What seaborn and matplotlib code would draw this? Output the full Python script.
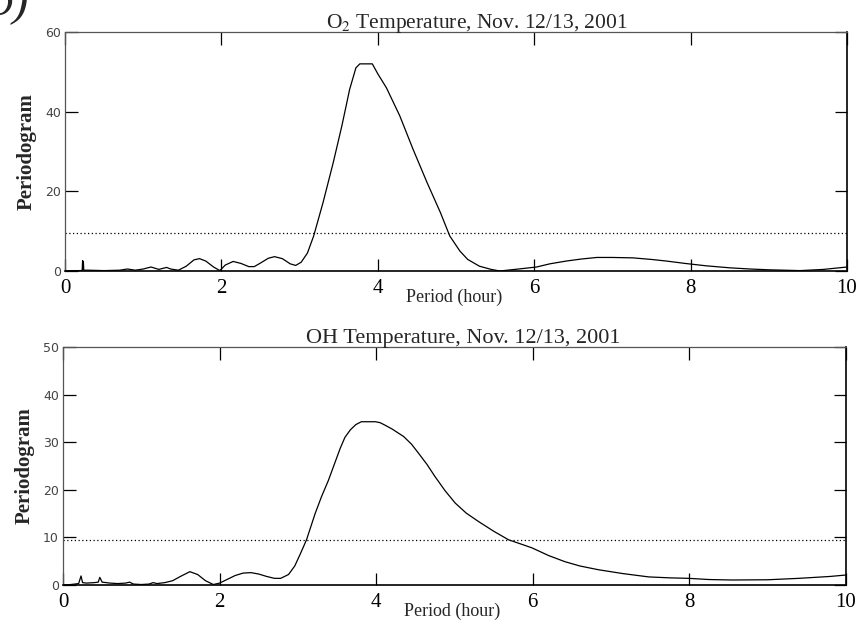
import matplotlib
matplotlib.use("Agg")
import matplotlib.pyplot as plt
import seaborn as sns
import pandas as pd

# ---- data ----
o2_period = [0.0, 0.1, 0.2, 0.22, 0.225, 0.23, 0.235, 0.24, 0.3, 0.5, 0.7, 0.8, 0.9, 1.0, 1.1, 1.2,
             1.3, 1.35, 1.45, 1.55, 1.65, 1.72, 1.8, 1.9, 1.98, 2.05, 2.15, 2.25, 2.35, 2.42, 2.5,
             2.6, 2.68, 2.78, 2.88, 2.95, 3.02, 3.1, 3.18, 3.3, 3.43, 3.54, 3.64, 3.72, 3.77, 3.93,
             4.0, 4.11, 4.28, 4.45, 4.63, 4.8, 4.92, 5.05, 5.15, 5.3, 5.45, 5.56, 5.8, 6.03, 6.2, 6.41,
             6.6, 6.8, 7.0, 7.26, 7.5, 7.69, 7.93, 8.2, 8.5, 8.76, 9.0, 9.4, 9.7, 9.95, 10.0]
o2_value = [0.0, 0.1, 0.1, 0.2, 2.6, 0.3, 2.4, 0.2, 0.2, 0.1, 0.2, 0.5, 0.2, 0.5, 1.0, 0.4,
            0.9, 0.5, 0.2, 1.2, 2.8, 3.1, 2.5, 1.0, 0.1, 1.5, 2.4, 1.9, 1.1, 1.1, 2.0,
            3.2, 3.6, 3.1, 1.8, 1.4, 2.2, 4.5, 8.8, 17.2, 27.2, 36.4, 45.6, 51.0, 52.0, 52.0,
            49.5, 46.0, 39.0, 30.6, 22.2, 14.7, 8.8, 5.0, 2.9, 1.2, 0.4, 0.0, 0.5, 1.0, 1.8, 2.5,
            3.0, 3.4, 3.4, 3.3, 2.9, 2.5, 1.9, 1.3, 0.8, 0.5, 0.3, 0.1, 0.4, 0.9, 1.0]

oh_period = [0.0, 0.1, 0.2, 0.23, 0.25, 0.3, 0.4, 0.45, 0.47, 0.5, 0.6, 0.7, 0.8, 0.85, 0.9, 1.0,
             1.1, 1.15, 1.2, 1.3, 1.4, 1.5, 1.62, 1.72, 1.82, 1.92, 2.0, 2.1, 2.2, 2.3, 2.4, 2.5,
             2.6, 2.7, 2.78, 2.88, 2.96, 3.03, 3.11, 3.22, 3.3, 3.39, 3.54, 3.6, 3.67, 3.74, 3.81,
             3.99, 4.05, 4.11, 4.2, 4.35, 4.45, 4.54, 4.65, 4.75, 4.88, 5.01, 5.15, 5.31, 5.5,
             5.69, 5.85, 5.99, 6.2, 6.41, 6.6, 6.84, 7.15, 7.48, 7.75, 7.99, 8.25, 8.54, 9.0,
             9.2, 9.4, 9.6, 9.8, 10.0]
oh_value = [0.0, 0.1, 0.3, 1.9, 0.5, 0.4, 0.5, 0.6, 1.6, 0.6, 0.4, 0.3, 0.4, 0.6, 0.2, 0.1,
            0.2, 0.5, 0.3, 0.5, 0.9, 1.8, 2.8, 2.2, 0.9, 0.1, 0.4, 1.2, 2.0, 2.5, 2.6, 2.3,
            1.8, 1.4, 1.4, 2.2, 4.0, 6.5, 9.5, 15.0, 18.5, 22.0, 28.7, 31.0, 32.6, 33.7, 34.3,
            34.3, 34.1, 33.6, 32.8, 31.2, 29.6, 27.7, 25.3, 22.8, 19.8, 17.2, 15.1, 13.3, 11.3,
            9.5, 8.6, 7.8, 6.2, 4.9, 4.0, 3.2, 2.4, 1.7, 1.5, 1.4, 1.15, 1.05, 1.1,
            1.25, 1.4, 1.6, 1.8, 2.1]

threshold = 9.5
titles = ["O$_2$ Temperature, Nov. 12/13, 2001", "OH Temperature, Nov. 12/13, 2001"]
x_ticks = [0, 2, 4, 6, 8, 10]
y_ticks_top = [0, 20, 40, 60]
y_ticks_bottom = [0, 10, 20, 30, 40, 50]

sns.set_theme(style="white")
plt.rcParams['font.family'] = ['Liberation Serif', 'DejaVu Serif']
plt.rcParams['mathtext.fontset'] = 'stix'

W, H = 866, 629
fig = plt.figure(figsize=(W / 100, H / 100), dpi=100)

def box(l, t, r, b):
    return [l / W, 1 - b / H, (r - l) / W, (b - t) / H]

ax1 = fig.add_axes(box(65, 32, 847, 271))
ax2 = fig.add_axes(box(63, 347, 846, 585))

panels = [
    (ax1, o2_period, o2_value, y_ticks_top, titles[0], 0.527, 15.5),
    (ax2, oh_period, oh_value, y_ticks_bottom, titles[1], 0.511, 16),
]

for ax, px, py, yt, title, tx, tfs in panels:
    df = pd.DataFrame({"Period": px, "Periodogram": py})
    sns.lineplot(data=df, x="Period", y="Periodogram", ax=ax, color="black",
                 linewidth=0.9, sort=False)
    ax.axhline(threshold, color="black", linestyle=(0, (1, 2)), linewidth=0.9)
    ax.set_xlim(0, 10)
    ax.set_ylim(0, yt[-1])
    ax.set_xticks(x_ticks)
    ax.set_yticks(yt)
    ax.set_xticklabels([str(v) for v in x_ticks], fontsize=15)
    ax.set_yticklabels([str(v) for v in yt], fontsize=9, color="#444444",
                       family="DejaVu Sans")
    ax.tick_params(axis="both", direction="in", length=9, width=0.9,
                   top=True, right=True, bottom=True, left=True, colors="black")
    ax.tick_params(axis="x", pad=6)
    ax.tick_params(axis="y", pad=3, labelcolor="#444444")
    ax.set_title(title, fontsize=tfs, pad=3, x=tx)
    ax.set_ylabel("Periodogram", fontsize=15, fontweight="bold", labelpad=6)
    ax.set_xlabel("")
    ax.text(0.436, -0.075, "Period (hour)", transform=ax.transAxes, fontsize=13,
            ha="left", va="top")
    for s in ["bottom", "right"]:
        ax.spines[s].set_color("black")
        ax.spines[s].set_linewidth(1.2)
    for s in ["top", "left"]:
        ax.spines[s].set_color("#555555")
        ax.spines[s].set_linewidth(0.9)
        ax.spines[s].set_linestyle((0, (2, 1)))

fig.text(-0.012, 1.03, "b)", fontsize=34, style="italic", ha="left", va="top")

fig.savefig("out.png", dpi=100)
